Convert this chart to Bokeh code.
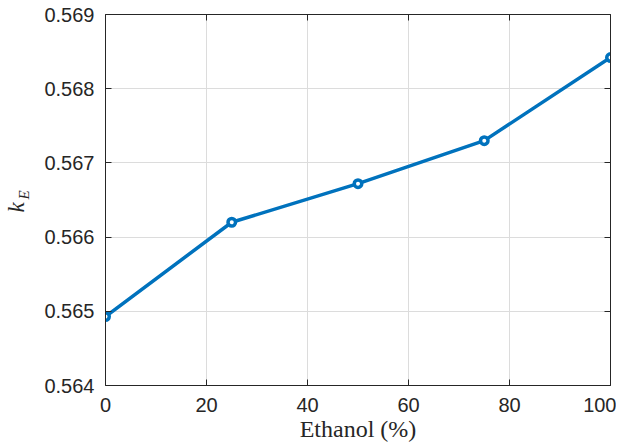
import math
from bokeh.plotting import figure
from bokeh.models import Range1d, LinearAxis, Label, FixedTicker
from bokeh.embed import file_html
from bokeh.resources import INLINE

ethanol = [0, 25, 50, 75, 100]
k_e = [0.56493, 0.56620, 0.56672, 0.56730, 0.56842]
x_ticks = [0, 20, 40, 60, 80, 100]
y_ticks = [0.564, 0.565, 0.566, 0.567, 0.568, 0.569]

BLUE = "#0072BD"
DARK = "#262626"

p = figure(width=616, height=447, output_backend="svg", toolbar_location=None,
           x_range=Range1d(0, 100), y_range=Range1d(0.564, 0.569),
           min_border_left=105, min_border_right=6, min_border_top=14, min_border_bottom=62,
           x_axis_location=None, y_axis_location=None)
p.outline_line_color = None
p.background_fill_color = "white"
p.border_fill_color = "white"

def style_axis(ax, labels=True):
    ax.axis_line_color = DARK
    ax.axis_line_width = 1
    ax.major_tick_line_color = DARK
    ax.major_tick_in = 6
    ax.major_tick_out = 0
    ax.minor_tick_line_color = None
    ax.major_label_text_font = "Liberation Sans"
    ax.major_label_text_font_size = "20px"
    ax.major_label_text_color = DARK
    if not labels:
        ax.major_label_text_font_size = "0px"
        ax.major_label_text_color = None

xb = LinearAxis(ticker=FixedTicker(ticks=x_ticks))
style_axis(xb)
xb.major_label_standoff = 12
xb.axis_label = "Ethanol (%)"
xb.axis_label_text_font = "Liberation Serif"
xb.axis_label_text_font_style = "normal"
xb.axis_label_text_font_size = "24px"
xb.axis_label_text_color = DARK
xb.axis_label_standoff = 1
p.add_layout(xb, "below")
xt = LinearAxis(ticker=FixedTicker(ticks=x_ticks))
style_axis(xt, labels=False)
xt.major_label_standoff = 0
p.add_layout(xt, "above")

yl = LinearAxis(ticker=FixedTicker(ticks=y_ticks))
style_axis(yl)
yl.major_label_standoff = 11
yl.formatter.use_scientific = False
yl.formatter.precision = 3
p.add_layout(yl, "left")
yr = LinearAxis(ticker=FixedTicker(ticks=y_ticks))
style_axis(yr, labels=False)
yr.major_label_standoff = 0
p.add_layout(yr, "right")

p.xgrid.ticker = FixedTicker(ticks=x_ticks)
p.ygrid.ticker = FixedTicker(ticks=y_ticks)
p.xgrid.grid_line_color = "#dcdcdc"
p.ygrid.grid_line_color = "#dcdcdc"
p.xgrid.grid_line_width = 1
p.ygrid.grid_line_width = 1

p.line(ethanol, k_e, line_color=BLUE, line_width=3.5)
p.scatter(ethanol, k_e, marker="circle", size=7.5, line_color=BLUE, line_width=3.5,
          fill_color="white")

# y label k_E, in side panels so they are not clipped to the frame
k_lab = Label(x=0, y=173, x_units="screen", y_units="screen", text="k",
              text_font="Liberation Serif", text_font_style="italic",
              text_font_size="23px", text_color=DARK, angle=math.pi / 2,
              angle_units="rad", text_align="left", text_baseline="alphabetic")
e_lab = Label(x=23, y=186, x_units="screen", y_units="screen", text="E",
              text_font="Liberation Serif", text_font_style="italic",
              text_font_size="15px", text_color=DARK, angle=math.pi / 2,
              angle_units="rad", text_align="left", text_baseline="alphabetic")
p.add_layout(k_lab, "left")
p.add_layout(e_lab, "left")

open("out.html", "w").write(file_html(p, INLINE))
